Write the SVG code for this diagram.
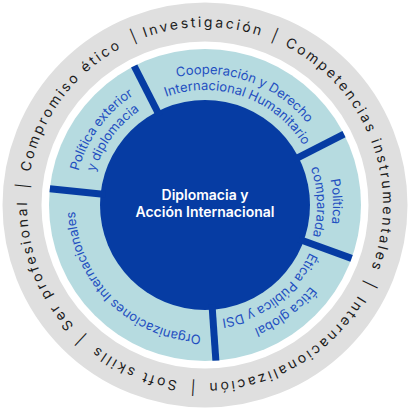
<svg xmlns="http://www.w3.org/2000/svg" width="410" height="410" viewBox="0 0 410 410">
<style>
.ring{font-family:Inter,"Liberation Sans",sans-serif;font-size:14px;letter-spacing:2.5px;fill:#1c1c1c}
.sep{font-family:Inter,"Liberation Sans",sans-serif;font-size:14px;fill:#1c1c1c}
.lab{font-family:Inter,"Liberation Sans",sans-serif;font-size:13px;fill:#1f4fc0}
.core{font-family:Inter,"Liberation Sans",sans-serif;font-size:14px;font-weight:600;fill:#ffffff}
.divider{stroke:#063ca3;stroke-width:7;fill:none}
</style>
<defs>
<path id="o178" d="M29.70,174.09 A178,178 0 0 1 380.30,174.09"/>
<path id="c133" d="M74.02,181.90 A133,133 0 0 1 335.98,181.90"/>
<path id="c131" d="M75.99,182.25 A131,131 0 0 1 334.01,182.25"/>
<path id="c130" d="M76.97,182.43 A130,130 0 0 1 333.03,182.43"/>
<path id="c128" d="M78.94,182.77 A128,128 0 0 1 331.06,182.77"/>
<path id="c115" d="M91.75,185.03 A115,115 0 0 1 318.25,185.03"/>
<path id="c112" d="M94.70,185.55 A112,112 0 0 1 315.30,185.55"/>
</defs>
<rect width="410" height="410" fill="#ffffff"/>
<g id="outer-ring">
<circle cx="205" cy="205" r="183" fill="none" stroke="#dfdfdf" stroke-width="39"/>
<text class="ring" transform="rotate(-0.5 205 205)"><textPath href="#o178" startOffset="50%" text-anchor="middle">Investigación</textPath></text>
<text class="ring" transform="rotate(69 205 205)"><textPath href="#o178" startOffset="50%" text-anchor="middle">Competencias instrumentales</textPath></text>
<text class="ring" transform="rotate(150 205 205)"><textPath href="#o178" startOffset="50%" text-anchor="middle">Internacionalización</textPath></text>
<text class="ring" transform="rotate(-156.5 205 205)"><textPath href="#o178" startOffset="50%" text-anchor="middle">Soft skills</textPath></text>
<text class="ring" transform="rotate(-110.5 205 205)"><textPath href="#o178" startOffset="50%" text-anchor="middle">Ser profesional</textPath></text>
<text class="ring" transform="rotate(-53.5 205 205)"><textPath href="#o178" startOffset="50%" text-anchor="middle">Compromiso ético</textPath></text>
<text class="sep" transform="rotate(-23 205 205)"><textPath href="#o178" startOffset="50%" text-anchor="middle">|</textPath></text>
<text class="sep" transform="rotate(22.4 205 205)"><textPath href="#o178" startOffset="50%" text-anchor="middle">|</textPath></text>
<text class="sep" transform="rotate(115.7 205 205)"><textPath href="#o178" startOffset="50%" text-anchor="middle">|</textPath></text>
<text class="sep" transform="rotate(-176.3 205 205)"><textPath href="#o178" startOffset="50%" text-anchor="middle">|</textPath></text>
<text class="sep" transform="rotate(-137.2 205 205)"><textPath href="#o178" startOffset="50%" text-anchor="middle">|</textPath></text>
<text class="sep" transform="rotate(-84 205 205)"><textPath href="#o178" startOffset="50%" text-anchor="middle">|</textPath></text>
</g>
<g id="inner-ring">
<circle cx="205" cy="205" r="156" fill="#b6dbe0"/>
</g>
<g id="node-politica-exterior">
<text class="lab" transform="rotate(-54 205 205)"><textPath href="#c131" startOffset="50%" text-anchor="middle">Política exterior</textPath></text>
<text class="lab" transform="rotate(-54 205 205)"><textPath href="#c115" startOffset="50%" text-anchor="middle">y diplomacia</textPath></text>
</g>
<g id="node-cooperacion">
<text class="lab" transform="rotate(19.5 205 205)"><textPath href="#c131" startOffset="50%" text-anchor="middle">Cooperación y Derecho</textPath></text>
<text class="lab" transform="rotate(19.5 205 205)"><textPath href="#c115" startOffset="50%" text-anchor="middle">Internacional Humanitario</textPath></text>
</g>
<g id="node-politica-comparada">
<text class="lab" transform="rotate(88.5 205 205)"><textPath href="#c128" startOffset="50%" text-anchor="middle">Política</textPath></text>
<text class="lab" transform="rotate(88.5 205 205)"><textPath href="#c112" startOffset="50%" text-anchor="middle">comparada</textPath></text>
</g>
<g id="node-etica">
<text class="lab" transform="rotate(143 205 205)"><textPath href="#c133" startOffset="50%" text-anchor="middle">Ética global</textPath></text>
<text class="lab" transform="rotate(143 205 205)"><textPath href="#c115" startOffset="50%" text-anchor="middle">Ética Pública y DSI</textPath></text>
</g>
<g id="node-organizaciones">
<text class="lab" transform="rotate(-135.5 205 205)"><textPath href="#c130" startOffset="50%" text-anchor="middle">Organizaciones Internacionales</textPath></text>
</g>
<g id="node-core">
<circle cx="205" cy="205" r="105" fill="#063ca3"/>
<text class="core" x="205" y="200" text-anchor="middle">Diplomacia y</text>
<text class="core" x="205" y="217" text-anchor="middle">Acción Internacional</text>
</g>
<g id="connectors">
<line class="divider" x1="105.55" y1="194.55" x2="49.85" y2="188.69"/>
<line class="divider" x1="159.60" y1="115.90" x2="134.18" y2="66.00"/>
<line class="divider" x1="294.10" y1="159.60" x2="344.00" y2="134.18"/>
<line class="divider" x1="298.97" y1="239.20" x2="351.59" y2="258.36"/>
<line class="divider" x1="211.98" y1="304.76" x2="215.88" y2="360.62"/>
</g>
</svg>
